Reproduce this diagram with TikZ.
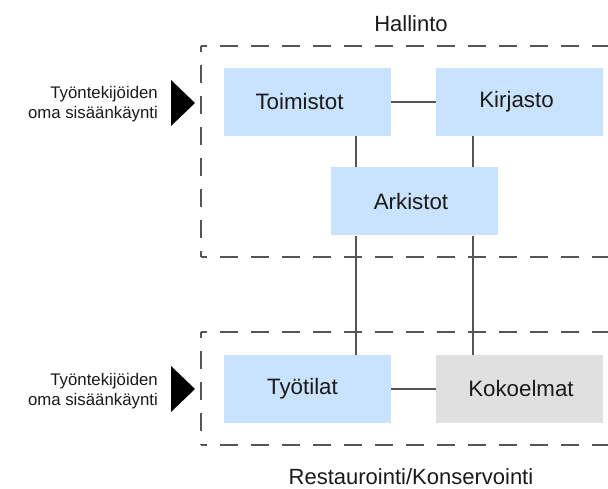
\documentclass[tikz,border=0pt]{standalone}
\usepackage{fontspec}
\setmainfont{Liberation Sans}
\definecolor{roomblue}{HTML}{C9E2FD}
\definecolor{roomgray}{HTML}{E0E0E0}
\definecolor{linegray}{HTML}{555555}
\definecolor{txt}{HTML}{1A1A1A}
\begin{document}
\begin{tikzpicture}[x=1pt,y=-1pt,
  room/.style={rectangle,inner sep=0pt,minimum width=167pt,minimum height=68pt,fill=roomblue,text=txt,font=\fontsize{22.3}{24}\selectfont},
  graybox/.style={room,fill=roomgray},
  zone/.style={draw=linegray,line width=1.6pt,dash pattern=on 18pt off 13pt,dash phase=12pt},
  link/.style={draw=linegray,line width=1.3pt},
  entrytxt/.style={anchor=base east,inner sep=0pt,text=txt,font=\fontsize{16.8}{20}\selectfont},
  zonetxt/.style={anchor=base,inner sep=0pt,text=txt,font=\fontsize{22}{24}\selectfont}]
\useasboundingbox (0,0) rectangle (608,489);
% zones
\draw[zone] (201,46) -- (640,46);
\draw[zone] (201,46) -- (201,257);
\draw[zone] (201,257) -- (640,257);
\draw[zone] (201,332) -- (640,332);
\draw[zone] (201,332) -- (201,445);
\draw[zone] (201,445) -- (640,445);
% rooms
\node[room] (toim) at (307.5,102) {\kern-16pt Toimistot};
\node[room] (kirj) at (519.5,102) {\kern-6pt Kirjasto};
\node[room] (ark) at (414.5,201.5) {\kern-7pt Arkistot};
\node[room] (tyo) at (307.5,389) {\kern-10pt Työtilat};
\node[graybox] (kok) at (519.5,389) {\kern3pt Kokoelmat};
% connector columns
\coordinate (cl) at (356,0);
\coordinate (cr) at (473,0);
\draw[link] (toim.east) -- (kirj.west);
\draw[link] (tyo.east) -- (kok.west);
\draw[link] (toim.south -| cl) -- (ark.north -| cl);
\draw[link] (kirj.south -| cr) -- (ark.north -| cr);
\draw[link] (ark.south -| cl) -- (tyo.north -| cl);
\draw[link] (ark.south -| cr) -- (kok.north -| cr);
% zone labels
\node[zonetxt] (hal) at (411,32) {Hallinto};
\node[zonetxt] (res) at (411,484) {Restaurointi/Konservointi};
% entrances
\fill[black] (171,80) -- (195,103) -- (171,126) -- cycle;
\fill[black] (171,366) -- (195,389) -- (171,412) -- cycle;
\node[entrytxt] (e1a) at (158,99) {Työntekijöiden};
\node[entrytxt] (e1b) at (158,119) {oma sisäänkäynti};
\node[entrytxt] (e2a) at (158,385) {Työntekijöiden};
\node[entrytxt] (e2b) at (158,405) {oma sisäänkäynti};
\end{tikzpicture}
\end{document}
